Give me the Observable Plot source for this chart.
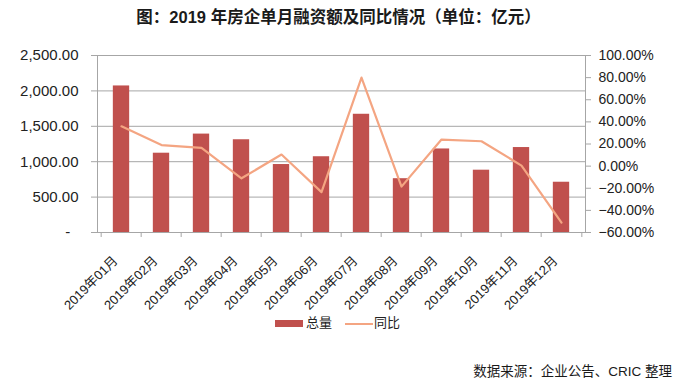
<!DOCTYPE html>
<html>
<head>
<meta charset="utf-8">
<script src="https://cdn.jsdelivr.net/npm/d3@7"></script>
<script src="https://cdn.jsdelivr.net/npm/@observablehq/plot@0.6"></script>
<style>
  html, body { margin: 0; padding: 0; background: #fff; }
  #wrap { position: relative; width: 677px; height: 382px; overflow: hidden; font-family: "Liberation Sans", Arial, "Noto Sans CJK SC", sans-serif; color: #222; }
  #title { position: absolute; left: 0; top: 2px; width: 677px; text-align: center; font-size: 16.5px; font-weight: bold; line-height: 30px; font-family: "Liberation Sans", Arial, "Noto Sans CJK SC", sans-serif; color: #1a1a1a; }
  .layer { position: absolute; left: 0; top: 0; }
  #legend { position: absolute; top: 314px; left: 0; width: 677px; height: 18px; font-size: 13px; }
  #legend .item { position: absolute; top: 0; line-height: 18px; }
  #legend .sw { position: absolute; }
  #caption { position: absolute; top: 363px; right: 5px; font-size: 13.5px; line-height: 18px; color: #1a1a1a; }
</style>
</head>
<body>
<div id="wrap">
  <div id="title">图：2019 年房企单月融资额及同比情况（单位：亿元）</div>
  <div id="plot1" class="layer"></div>
  <div id="plot2" class="layer"></div>
  <div id="legend">
    <div class="sw" style="left:275px;top:6px;width:28px;height:7px;background:#c0504d"></div>
    <div class="item" style="left:306px">总量</div>
    <div class="sw" style="left:345px;top:9px;width:28px;height:2px;background:#f4a582"></div>
    <div class="item" style="left:374px">同比</div>
  </div>
  <div id="caption">数据来源：企业公告、CRIC 整理</div>
</div>
<script>
const months = ["2019年01月","2019年02月","2019年03月","2019年04月","2019年05月","2019年06月","2019年07月","2019年08月","2019年09月","2019年10月","2019年11月","2019年12月"];
const totals = [2070, 1120, 1390, 1310, 960, 1070, 1670, 760, 1180, 880, 1200, 710];
const yoy = [36, 19, 16.5, -11, 10.5, -23.5, 80, -18.5, 24, 22.5, 0.5, -51];
const leftTicks = [0, 500, 1000, 1500, 2000, 2500];
const rightTicks = [-60, -40, -20, 0, 20, 40, 60, 80, 100];

const data = months.map((m, i) => ({month: m, total: totals[i], yoy: yoy[i]}));

const W = 677, H = 320;
const ML = 97, MR = 92, MT = 55, MB = 88;
const bw = (W - ML - MR) / months.length;
const barW = 17;
const inset = (bw - barW) / 2;
const grid = "#a6a6a6";
const font = "Liberation Sans, Arial, Noto Sans CJK SC, sans-serif";

const fmtLeft = d => d === 0 ? "-\u2007" : d3.format(",.2f")(d);
const fmtRight = d => (d < 0 ? "\u2212" : "") + Math.abs(d).toFixed(2) + "%";

const p1 = Plot.plot({
  width: W, height: H,
  marginLeft: ML, marginRight: MR, marginTop: MT, marginBottom: MB,
  style: {fontFamily: font, fontSize: "14px", color: "#222", background: "transparent"},
  x: {type: "band", domain: months, padding: 0, label: null},
  y: {domain: [0, 2500], label: null},
  marks: [
    Plot.gridY(leftTicks, {stroke: grid, strokeOpacity: 1}),
    Plot.barY(data, {x: "month", y: "total", fill: "#c0504d", insetLeft: inset, insetRight: inset}),
    Plot.axisY({ticks: leftTicks, tickFormat: fmtLeft, tickSize: 6, tickPadding: 13, stroke: grid, fontSize: 15, label: null}),
    Plot.frame({anchor: "left", stroke: grid}),
    Plot.ruleY([0], {stroke: grid}),
    Plot.axisX({tickSize: 5, tickFormat: () => "", dx: -bw / 2, stroke: grid, label: null}),
    Plot.axisX({ticks: [months[months.length - 1]], tickSize: 5, tickFormat: () => "", dx: bw / 2, stroke: grid, label: null}),
    Plot.axisX({tickSize: 0, tickPadding: 26, tickRotate: -45, fontSize: 13, dx: -6, label: null})
  ]
});
document.getElementById("plot1").appendChild(p1);

const p2 = Plot.plot({
  width: W, height: H,
  marginLeft: ML, marginRight: MR, marginTop: MT, marginBottom: MB,
  style: {fontFamily: font, fontSize: "14px", color: "#222", background: "transparent"},
  x: {type: "band", domain: months, padding: 0, axis: null, label: null},
  y: {domain: [-60, 100], label: null},
  marks: [
    Plot.line(data, {x: "month", y: "yoy", stroke: "#f4a582", strokeWidth: 2.2}),
    Plot.axisY({anchor: "right", ticks: rightTicks, tickFormat: fmtRight, tickSize: 5, tickPadding: 8, stroke: grid, fontSize: 14, label: null}),
    Plot.frame({anchor: "right", stroke: grid})
  ]
});
document.getElementById("plot2").appendChild(p2);
</script>
</body>
</html>
